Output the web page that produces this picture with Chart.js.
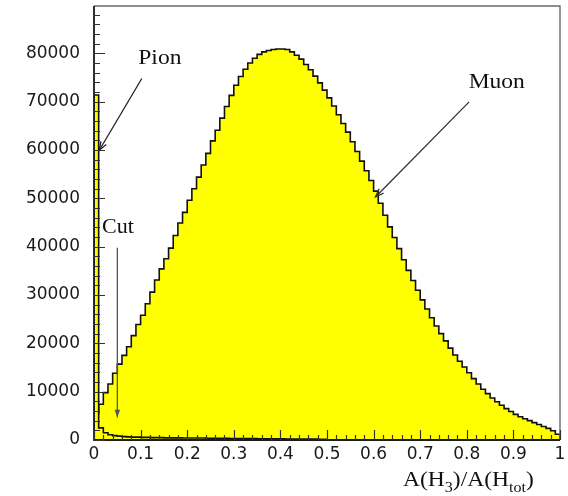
<!DOCTYPE html>
<html>
<head>
<meta charset="utf-8">
<script src="https://cdn.jsdelivr.net/npm/chart.js@4"></script>
<style>
  html, body { margin: 0; padding: 0; background: #ffffff; }
  #wrap { width: 568px; height: 496px; }
</style>
</head>
<body>
<div id="wrap"><canvas id="c" width="568" height="496"></canvas></div>
<script>
// Histogram binning: 100 bins of width 0.01 on [0, 1]
const binLow = 0;
const binWidth = 0.01;

// Muon counts per bin
const muonCounts = [
  5500, 7400, 9800, 11600, 13800, 15700, 17500, 19300, 21600, 23900,
  25800, 28200, 30600, 33100, 35400, 37500, 39700, 42300, 44900, 47100,
  49600, 52000, 54400, 56900, 59300, 61900, 64100, 66600, 69000, 71300,
  73400, 75200, 76700, 78000, 79000, 79800, 80300, 80600, 80800, 80900,
  80900, 80800, 80300, 79600, 78800, 77700, 76600, 75300, 73900, 72400,
  70800, 69100, 67300, 65500, 63700, 61700, 59700, 57700, 55700, 53700,
  51500, 49000, 46500, 44100, 41900, 39600, 37300, 35100, 33000, 31000,
  29000, 27100, 25300, 23600, 22000, 20500, 19000, 17600, 16300, 15100,
  13900, 12700, 11600, 10500, 9600, 8700, 7900, 7200, 6500, 5900,
  5300, 4800, 4400, 4000, 3600, 3200, 2800, 2400, 1900, 1200
];

// Pion counts per bin
const pionCounts = [
  71400, 2500, 1500, 1100, 900, 800, 700, 650, 600, 600,
  550, 550, 500, 500, 500, 450, 450, 450, 450, 400,
  400, 400, 400, 400, 350, 350, 350, 350, 350, 300,
  300, 300, 300, 300, 300, 250, 250, 250, 250, 250,
  250, 200, 200, 200, 200, 200, 200, 200, 150, 150,
  0, 0, 0, 0, 0, 0, 0, 0, 0, 0,
  0, 0, 0, 0, 0, 0, 0, 0, 0, 0,
  0, 0, 0, 0, 0, 0, 0, 0, 0, 0,
  0, 0, 0, 0, 0, 0, 0, 0, 0, 0,
  0, 0, 0, 0, 0, 0, 0, 0, 0, 0
];

// Axis tick values and labels
const xTickValues = [0, 0.1, 0.2, 0.3, 0.4, 0.5, 0.6, 0.7, 0.8, 0.9, 1];
const xTickLabels = ['0', '0.1', '0.2', '0.3', '0.4', '0.5', '0.6', '0.7', '0.8', '0.9', '1'];
const yTickValues = [0, 10000, 20000, 30000, 40000, 50000, 60000, 70000, 80000];
const yTickLabels = ['0', '10000', '20000', '30000', '40000', '50000', '60000', '70000', '80000'];
const xMax = 1;
const yMax = 89800;

// Outline points of a filled step histogram: start at zero, one point per bin edge, back to zero
function histogramPoints(counts) {
  const pts = [{ x: binLow, y: 0 }];
  counts.forEach((v, i) => pts.push({ x: binLow + i * binWidth, y: v }));
  pts.push({ x: binLow + counts.length * binWidth, y: 0 });
  return pts;
}

const YELLOW = '#ffff00';
const serif = '"Liberation Serif", "Times New Roman", serif';
const sans = '"DejaVu Sans", sans-serif';

function arrow(ctx, x1, y1, x2, y2, color, filled, head) {
  const ang = Math.atan2(y2 - y1, x2 - x1);
  ctx.save();
  ctx.strokeStyle = color;
  ctx.fillStyle = color;
  ctx.lineWidth = 1.3;
  ctx.beginPath();
  ctx.moveTo(x1, y1);
  ctx.lineTo(x2, y2);
  ctx.stroke();
  const a1 = ang + Math.PI - 0.35, a2 = ang + Math.PI + 0.35;
  ctx.beginPath();
  ctx.moveTo(x2 + head * Math.cos(a1), y2 + head * Math.sin(a1));
  ctx.lineTo(x2, y2);
  ctx.lineTo(x2 + head * Math.cos(a2), y2 + head * Math.sin(a2));
  if (filled) { ctx.closePath(); ctx.fill(); } else { ctx.stroke(); }
  ctx.restore();
}

// text drawn slightly widened, left edge at (x, y)
function wideText(ctx, text, x, y, stretch) {
  ctx.save();
  ctx.translate(x, y);
  ctx.scale(stretch, 1);
  ctx.fillText(text, 0, 0);
  ctx.restore();
  return ctx.measureText(text).width * stretch;
}

// Frame, inward ticks, labels and arrows drawn on top of the histograms
const decorations = {
  id: 'decorations',
  afterDatasetsDraw(chart) {
    const { ctx, chartArea: a, scales: { x, y } } = chart;
    ctx.save();
    // frame
    ctx.strokeStyle = '#6a6a6a';
    ctx.lineWidth = 1.4;
    ctx.beginPath();
    ctx.moveTo(a.left, a.top);
    ctx.lineTo(a.right, a.top);
    ctx.lineTo(a.right, a.bottom);
    ctx.stroke();
    ctx.strokeStyle = '#1a1a1a';
    ctx.lineWidth = 1.8;
    ctx.beginPath();
    ctx.moveTo(a.left, a.top);
    ctx.lineTo(a.left, a.bottom);
    ctx.lineTo(a.right, a.bottom);
    ctx.stroke();

    // y ticks: major every 10000, minor every 2000
    ctx.lineWidth = 1.2;
    ctx.strokeStyle = '#333';
    ctx.beginPath();
    for (let v = 0; v <= yMax; v += 2000) {
      const py = Math.round(y.getPixelForValue(v)) + 0.5;
      const len = v % 10000 === 0 ? 11 : 6;
      ctx.moveTo(a.left, py);
      ctx.lineTo(a.left + len, py);
    }
    ctx.stroke();
    // x ticks: major every 0.1, minor every 0.02
    ctx.beginPath();
    for (let i = 0; i <= 50; i++) {
      const px = Math.round(x.getPixelForValue(i * 0.02)) + 0.5;
      const len = i % 5 === 0 ? 10 : 5;
      ctx.moveTo(px, a.bottom);
      ctx.lineTo(px, a.bottom - len);
    }
    ctx.stroke();

    // annotations
    ctx.fillStyle = '#111';
    ctx.font = '21px ' + serif;
    ctx.textAlign = 'left';
    ctx.textBaseline = 'alphabetic';
    wideText(ctx, 'Pion', x.getPixelForValue(0.095), y.getPixelForValue(77900), 1.12);
    wideText(ctx, 'Muon', x.getPixelForValue(0.804), y.getPixelForValue(72800), 1.12);
    wideText(ctx, 'Cut', x.getPixelForValue(0.017), y.getPixelForValue(42800), 1.05);

    arrow(ctx, x.getPixelForValue(0.1026), y.getPixelForValue(74800),
      x.getPixelForValue(0.0114), y.getPixelForValue(59960), '#222', false, 9);
    arrow(ctx, x.getPixelForValue(0.805), y.getPixelForValue(69970),
      x.getPixelForValue(0.604), y.getPixelForValue(50280), '#333', false, 9);
    arrow(ctx, x.getPixelForValue(0.0501), y.getPixelForValue(39790),
      x.getPixelForValue(0.0501), y.getPixelForValue(4680), '#555', true, 8);

    // x axis title: A(H3)/A(Htot)
    let tx = 403;
    const base = 486;
    const parts = [['A(H', 0], ['3', 1], [')/A(H', 0], ['tot', 1], [')', 0]];
    parts.forEach(([t, sub]) => {
      ctx.font = (sub ? '15px ' : '22px ') + serif;
      tx += wideText(ctx, t, tx, sub ? base + 6 : base, 1.07);
    });
    ctx.restore();
  }
};

new Chart(document.getElementById('c'), {
  type: 'line',
  data: {
    datasets: [
      {
        label: 'Pion',
        data: histogramPoints(pionCounts),
        stepped: 'before',
        borderColor: '#111',
        borderWidth: 1.6,
        backgroundColor: YELLOW,
        fill: 'origin',
        pointRadius: 0,
        tension: 0
      },
      {
        label: 'Muon',
        data: histogramPoints(muonCounts),
        stepped: 'before',
        borderColor: '#111',
        borderWidth: 1.6,
        backgroundColor: YELLOW,
        fill: 'origin',
        pointRadius: 0,
        tension: 0
      }
    ]
  },
  options: {
    responsive: false,
    animation: false,
    events: [],
    layout: { padding: { top: 6, right: 8, left: 0, bottom: 0 } },
    plugins: { legend: { display: false }, tooltip: { enabled: false } },
    scales: {
      x: {
        type: 'linear',
        min: 0,
        max: xMax,
        grid: { display: false, drawTicks: false },
        border: { display: false },
        afterBuildTicks: (s) => { s.ticks = xTickValues.map((v) => ({ value: v })); },
        ticks: {
          autoSkip: false,
          maxRotation: 0,
          padding: 4,
          color: '#1a1a1a',
          font: { family: sans, size: 17 },
          callback: (v, i) => xTickLabels[i]
        },
        afterFit: (s) => { s.height = 56; s.paddingLeft = 0; s.paddingRight = 0; }
      },
      y: {
        type: 'linear',
        min: 0,
        max: yMax,
        grid: { display: false, drawTicks: false },
        border: { display: false },
        afterBuildTicks: (s) => { s.ticks = yTickValues.map((v) => ({ value: v })); },
        ticks: {
          autoSkip: false,
          padding: 14,
          color: '#1a1a1a',
          font: { family: sans, size: 17 },
          callback: (v, i) => yTickLabels[i]
        },
        afterFit: (s) => { s.width = 94; s.paddingTop = 0; s.paddingBottom = 0; }
      }
    }
  },
  plugins: [decorations]
});
</script>
</body>
</html>
